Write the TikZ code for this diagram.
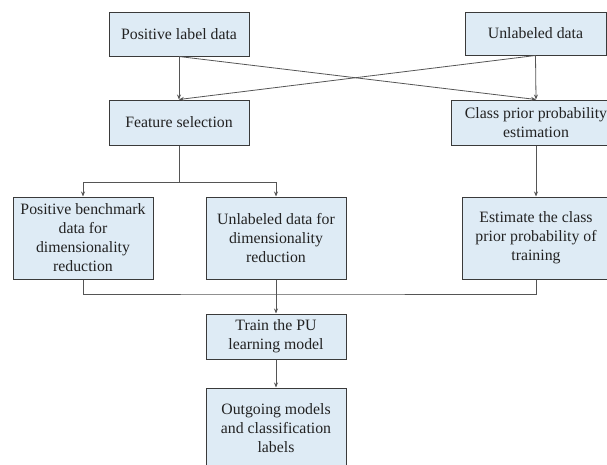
\documentclass[tikz,border=0pt]{standalone}
\usepackage{fontspec}
\setmainfont{Liberation Serif}
\usetikzlibrary{arrows.meta}
\definecolor{boxfill}{HTML}{DEEBF5}
\definecolor{boxdraw}{HTML}{3A3A3A}
\definecolor{linecol}{HTML}{555555}
\definecolor{txt}{HTML}{222222}
\tikzset{
  box/.style={draw=boxdraw, line width=1pt, fill=boxfill, text=txt, align=center,
    inner sep=0pt, font=\fontsize{15.8}{19}\selectfont},
  conn/.style={draw=linecol, line width=0.8pt},
  arr/.style={conn, -{Stealth[length=5pt,width=4pt]}}
}
\begin{document}
\begin{tikzpicture}[x=1pt,y=-1pt]
\useasboundingbox (0,0) rectangle (607,464);
\clip (0,0) rectangle (607,464);
\node[box, minimum width=140pt, minimum height=44pt] (pld) at (179,34) {Positive label data};
\node[box, minimum width=141pt, minimum height=43pt] (ud) at (535.5,33.5) {Unlabeled data};
\node[box, minimum width=140pt, minimum height=45pt] (fs) at (179,122.5) {Feature selection};
\node[box, minimum width=170pt, minimum height=45pt] (cppe) at (536,122.5) {Class prior probability\\estimation};
\node[box, minimum width=140pt, minimum height=82pt] (pbd) at (83,238) {Positive benchmark\\data for\\dimensionality\\reduction};
\node[box, minimum width=140pt, minimum height=82pt] (uddr) at (276,238) {Unlabeled data for\\dimensionality\\reduction};
\node[box, minimum width=148pt, minimum height=82pt] (ecpp) at (536,238) {Estimate the class\\prior probability of\\training};
\node[box, minimum width=140pt, minimum height=45pt] (train) at (276,336.5) {Train the PU\\learning model};
\node[box, minimum width=140pt, minimum height=80pt] (out) at (276,428) {Outgoing models\\and classification\\labels};
\draw[arr] (pld.south) -- (fs.north);
\draw[arr] (ud.south) -- (cppe.north);
\draw[arr] (pld.south) -- (cppe.north);
\draw[arr] (ud.south) -- (fs.north);
\coordinate (fork) at (179,182);
\draw[conn] (fs.south) -- (fork);
\draw[arr] (fork) -| (pbd.north);
\draw[arr] (fork) -| (uddr.north);
\draw[arr] (cppe.south) -- (ecpp.north);
\coordinate (mrg) at (276,294);
\draw[conn] (pbd.south) |- (mrg) -| (ecpp.south);
\draw[arr] (uddr.south) -- (train.north);
\draw[arr] (train.south) -- (out.north);
\end{tikzpicture}
\end{document}
